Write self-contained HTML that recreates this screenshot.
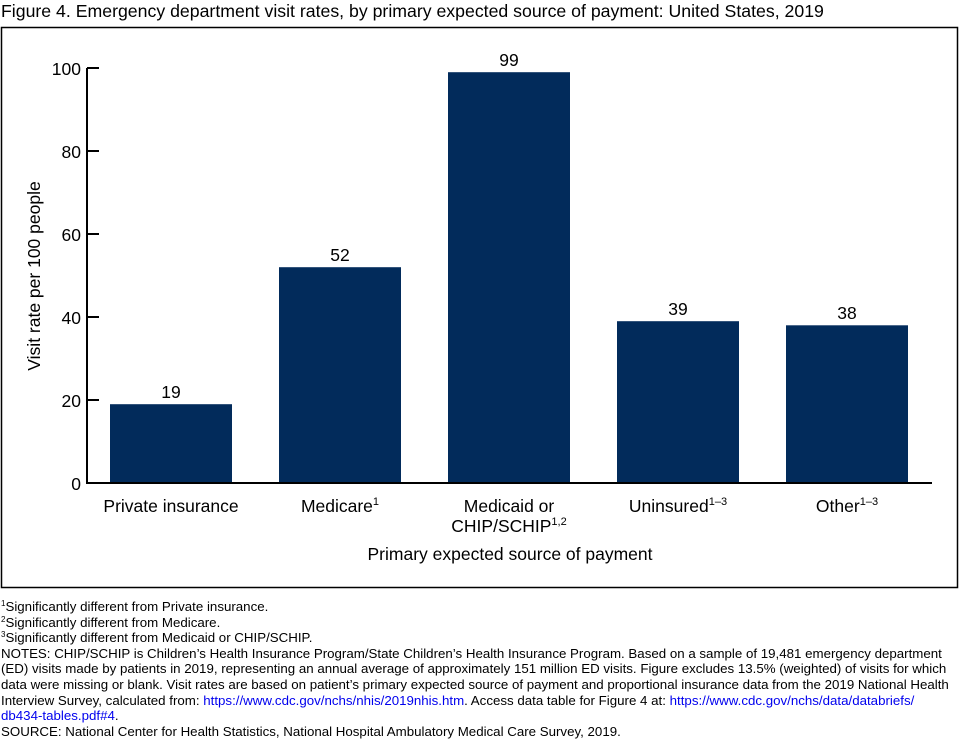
<!DOCTYPE html>
<html><head><style>
body{margin:0;background:#fff;width:960px;height:740px;overflow:hidden;font-family:"Liberation Sans",Arial,sans-serif;}
.n{position:absolute;left:1px;font-size:13.3px;line-height:15.6px;color:#000;width:956px;}
a{color:#0000ee;text-decoration:none}
sup{font-size:8px;vertical-align:5px;line-height:0}
</style></head><body>
<svg width="960" height="600" style="position:absolute;left:0;top:0" font-family="Liberation Sans, Arial, sans-serif">
<text x="1" y="17" font-size="17.7">Figure 4. Emergency department visit rates, by primary expected source of payment: United States, 2019</text>
<rect x="1.5" y="27.5" width="956" height="560" fill="none" stroke="#000" stroke-width="1.5"/>
<g fill="#022b5b">
<rect x="110" y="404.2" width="122" height="78.8"/>
<rect x="279" y="267.2" width="122" height="215.8"/>
<rect x="448" y="72.2" width="122" height="410.8"/>
<rect x="617" y="321.2" width="122" height="161.8"/>
<rect x="786" y="325.3" width="122" height="157.7"/>
</g>
<g stroke="#000" stroke-width="2" fill="none">
<path d="M87 68 V483 H932"/>
<path d="M87 68H99M87 151H99M87 234H99M87 317H99M87 400H99"/>
</g>
<g font-size="17.5" text-anchor="end">
<text x="81" y="75">100</text><text x="81" y="158">80</text><text x="81" y="241">60</text><text x="81" y="324">40</text><text x="81" y="407">20</text><text x="81" y="490">0</text>
</g>
<g font-size="17.5" text-anchor="middle">
<text x="171" y="398">19</text><text x="340" y="261">52</text><text x="509" y="66">99</text><text x="678" y="315">39</text><text x="847" y="319">38</text>
<text x="171" y="512">Private insurance</text>
<text x="340" y="512">Medicare<tspan font-size="11" dy="-7">1</tspan></text>
<text x="509" y="512">Medicaid or</text>
<text x="509" y="532">CHIP/SCHIP<tspan font-size="11" dy="-7">1,2</tspan></text>
<text x="678" y="512">Uninsured<tspan font-size="11" dy="-7">1–3</tspan></text>
<text x="847" y="512">Other<tspan font-size="11" dy="-7">1–3</tspan></text>
<text x="510" y="560">Primary expected source of payment</text>
<text transform="translate(40,276) rotate(-90)">Visit rate per 100 people</text>
</g>
</svg>
<div class="n" style="top:599px">
<sup>1</sup>Significantly different from Private insurance.<br>
<sup>2</sup>Significantly different from Medicare.<br>
<sup>3</sup>Significantly different from Medicaid or CHIP/SCHIP.<br>
NOTES: CHIP/SCHIP is Children’s Health Insurance Program/State Children’s Health Insurance Program. Based on a sample of 19,481 emergency department (ED) visits made by patients in 2019, representing an annual average of approximately 151 million ED visits. Figure excludes 13.5% (weighted) of visits for which data were missing or blank. Visit rates are based on patient’s primary expected source of payment and proportional insurance data from the 2019 National Health Interview Survey, calculated from: <a>https://www.cdc.gov/nchs/nhis/2019nhis.htm</a>. Access data table for Figure 4 at: <a>https://www.cdc.gov/nchs/data/databriefs/<br>db434-tables.pdf#4</a>.<br>
SOURCE: National Center for Health Statistics, National Hospital Ambulatory Medical Care Survey, 2019.
</div>
</body></html>
